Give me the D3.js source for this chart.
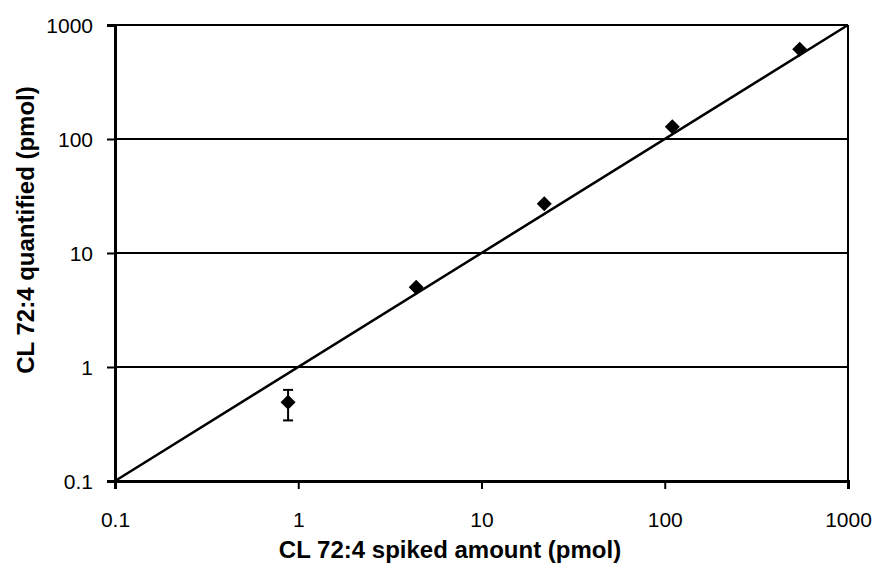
<!DOCTYPE html>
<html>
<head>
<meta charset="utf-8">
<script src="https://cdn.jsdelivr.net/npm/d3@7"></script>
<style>
  body { margin: 0; background: #fff; }
  text { font-family: "Liberation Sans", Arial, sans-serif; fill: #000; }
</style>
</head>
<body>
<div id="chart"></div>
<script>
const spiked = [0.88, 4.4, 22, 110, 545];
const quantified = [0.49, 5.0, 27, 128, 612];
const errLow = [0.34, null, null, null, null];
const errHigh = [0.63, null, null, null, null];
const tickValues = [0.1, 1, 10, 100, 1000];

const width = 876;
const height = 565;
const margin = { top: 25, right: 28, bottom: 84, left: 115 };

const svg = d3.select("#chart")
    .append("svg")
    .attr("width", width)
    .attr("height", height);

const x = d3.scaleLog()
    .domain([0.1, 1000])
    .range([margin.left, width - margin.right]);

const y = d3.scaleLog()
    .domain([0.1, 1000])
    .range([height - margin.bottom, margin.top]);

// horizontal gridlines
svg.selectAll(".grid")
    .data(tickValues.slice(1))
    .enter()
    .append("line")
    .attr("x1", x(0.1))
    .attr("x2", x(1000))
    .attr("y1", d => y(d))
    .attr("y2", d => y(d))
    .attr("stroke", "#000")
    .attr("stroke-width", 2);

// right border
svg.append("line")
    .attr("x1", x(1000)).attr("x2", x(1000))
    .attr("y1", y(0.1)).attr("y2", y(1000))
    .attr("stroke", "#000")
    .attr("stroke-width", 2);

const fmt = d => d < 1 ? "0.1" : String(d);

const xAxis = svg.append("g")
    .attr("transform", `translate(0,${y(0.1)})`)
    .call(d3.axisBottom(x).tickValues(tickValues).tickFormat(fmt).tickSize(8).tickPadding(23));

const yAxis = svg.append("g")
    .attr("transform", `translate(${x(0.1)},0)`)
    .call(d3.axisLeft(y).tickValues(tickValues).tickFormat(fmt).tickSize(8).tickPadding(14));

[xAxis, yAxis].forEach(g => {
    g.select(".domain").attr("stroke", "#000").attr("stroke-width", 3);
    g.selectAll(".tick line").attr("stroke", "#000").attr("stroke-width", 2);
    g.selectAll(".tick text")
        .attr("font-size", "21px")
        .attr("font-family", "Liberation Sans, Arial, sans-serif")
        .attr("fill", "#000");
});
yAxis.selectAll(".tick text").attr("dy", "0.35em");

// identity line
svg.append("line")
    .attr("x1", x(0.1)).attr("y1", y(0.1))
    .attr("x2", x(1000)).attr("y2", y(1000))
    .attr("stroke", "#000")
    .attr("stroke-width", 2.5);

// error bars
const points = spiked.map((s, i) => ({ s: s, q: quantified[i], lo: errLow[i], hi: errHigh[i] }));

const err = svg.selectAll(".err")
    .data(points.filter(d => d.lo !== null))
    .enter()
    .append("g");

err.append("line")
    .attr("x1", d => x(d.s)).attr("x2", d => x(d.s))
    .attr("y1", d => y(d.lo)).attr("y2", d => y(d.hi))
    .attr("stroke", "#000").attr("stroke-width", 2);

err.selectAll(".cap")
    .data(d => [[d.s, d.lo], [d.s, d.hi]])
    .enter()
    .append("line")
    .attr("x1", d => x(d[0]) - 5).attr("x2", d => x(d[0]) + 5)
    .attr("y1", d => y(d[1])).attr("y2", d => y(d[1]))
    .attr("stroke", "#000").attr("stroke-width", 2);

// diamond markers
svg.selectAll(".pt")
    .data(points)
    .enter()
    .append("path")
    .attr("d", "M0,-7.5L7.5,0L0,7.5L-7.5,0Z")
    .attr("transform", d => `translate(${x(d.s)},${y(d.q)})`)
    .attr("fill", "#000");

// axis titles
svg.append("text")
    .attr("x", 450)
    .attr("y", 558)
    .attr("text-anchor", "middle")
    .attr("font-size", "24px")
    .attr("font-weight", "bold")
    .text("CL 72:4 spiked amount (pmol)");

svg.append("text")
    .attr("transform", "translate(34,230) rotate(-90)")
    .attr("text-anchor", "middle")
    .attr("font-size", "24px")
    .attr("font-weight", "bold")
    .text("CL 72:4 quantified (pmol)");
</script>
</body>
</html>
